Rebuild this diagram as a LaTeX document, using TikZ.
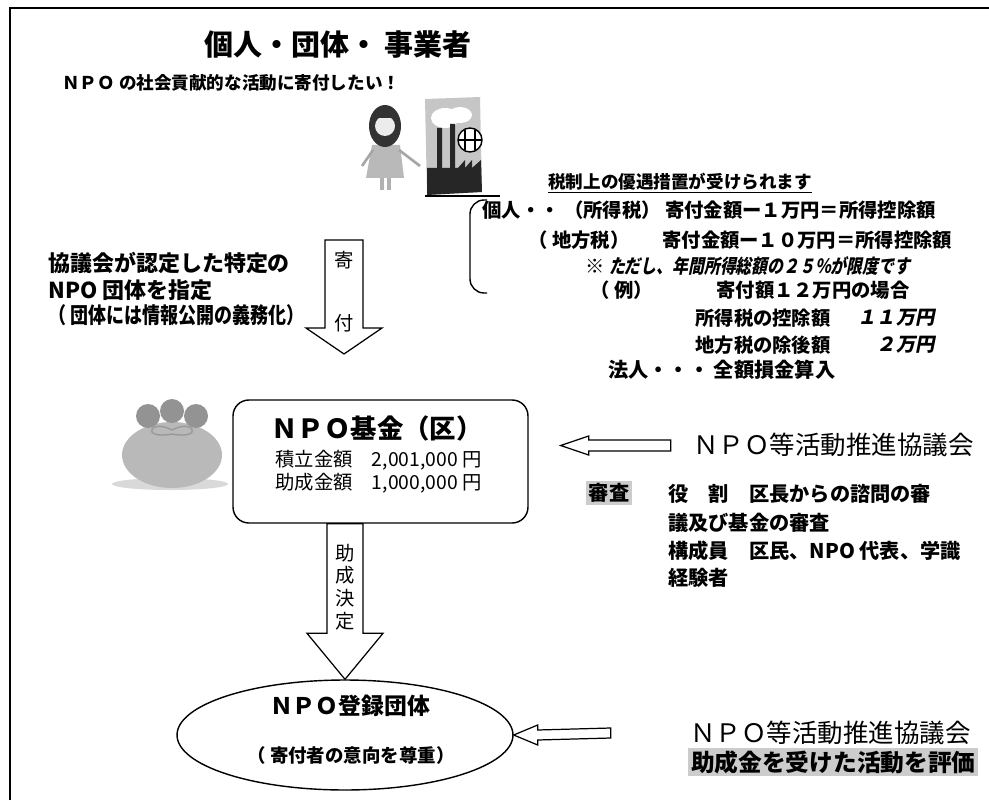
\documentclass[tikz,border=0pt]{standalone}
\usepackage{fontspec}
\setmainfont{Noto Sans CJK JP}
\usetikzlibrary{positioning, calc, shapes.geometric}

\newcommand\fsz[1]{\fontsize{#1}{#1}\selectfont}
\newcommand\slant{\addfontfeature{FakeSlant=0.2}}
\newcommand\narrow{\addfontfeature{FakeStretch=0.82}}

% hollow block arrows: (top) (tip) shaft-half head-half head-length
\newcommand\downblock[5]{%
  \draw[hollow] ($(#1)+(-#3,0)$) -- ($(#1)+(#3,0)$) -- ($(#2)+(#3,-#5)$)
    -- ($(#2)+(#4,-#5)$) -- (#2) -- ($(#2)+(-#4,-#5)$) -- ($(#2)+(-#3,-#5)$) -- cycle;}
% (tail) (tip) shaft-half head-half head-length, pointing left
\newcommand\leftblock[5]{%
  \draw[hollow] ($(#1)+(0,-#3)$) -- ($(#2)+(#5,-#3)$) -- ($(#2)+(#5,-#4)$)
    -- (#2) -- ($(#2)+(#5,#4)$) -- ($(#2)+(#5,#3)$) -- ($(#1)+(0,#3)$) -- cycle;}

\tikzset{
    ttl/.style={font=\bfseries\fsz{16.5}, inner sep=0pt},
    lead/.style={font=\bfseries\fsz{10}, anchor=west, inner sep=0pt},
    tax/.style={font=\bfseries\fsz{11}, anchor=west, inner sep=0pt},
    side/.style={font=\bfseries\fsz{12.5}, anchor=west, inner sep=0pt},
    fundbox/.style={rectangle, draw, line width=0.8pt, rounded corners=9pt, minimum width=5.9cm, minimum height=2.46cm},
    npobox/.style={ellipse, draw, line width=0.8pt, minimum width=6.72cm, minimum height=2.2cm, inner sep=0pt},
    hollow/.style={draw, line width=0.7pt, fill=white},
    boxtxt/.style={font=\fsz{11}, anchor=west, inner sep=0pt},
    council/.style={font=\fsz{14.5}, anchor=west, inner sep=0pt},
    role/.style={font=\bfseries\fsz{11.5}, anchor=west, inner sep=0pt},
    markbg/.style={fill=gray!40, inner sep=1.5pt},
}

\begin{document}
\begin{tikzpicture}[x=0.02cm, y=-0.02cm]
\useasboundingbox (0,0) rectangle (989,800);
% frame
\draw[line width=1.2pt] (10,800) -- (10,8) -- (989,8);

% donors
\node[ttl] (donor) at (338,45) {個人・団体・ 事業者};
\node[lead] (wish) at (62,83) {ＮＰＯ の社会貢献的な活動に寄付したい！};

% woman
\fill[gray!55] (372,145) -- (400,145) -- (404,178) -- (366,178) -- cycle;
\draw[gray!70, line width=1.5pt] (373,150) -- (362,166) (399,150) -- (420,166);
\draw[gray!60, line width=2pt] (382,178) -- (382,190) (389,178) -- (389,190);
\fill[black!80] (385,126) ellipse [x radius=16, y radius=21];
\fill[gray!15] (385,126) circle (10);
\fill[black!80] (377,118) -- (393,118) -- (392,112) -- (378,112) -- cycle;
% factory
\fill[gray!45] (425,99) -- (480,97) -- (482,192) -- (427,195) -- cycle;
\fill[white] (445,118) ellipse [x radius=14, y radius=10] (460,115) ellipse [x radius=12, y radius=8];
\fill[black!85] (437,128) rectangle (442,168) (450,124) rectangle (455,168);
\fill[black!85] (427,195) -- (427,168) -- (458,168) -- (465,160) -- (465,168) -- (472,160)
  -- (472,168) -- (481,160) -- (482,192) -- cycle;
\draw[line width=0.8pt, fill=white] (470,140) circle (12);
\draw[line width=1.2pt] (465,130) -- (465,150) (475,130) -- (475,150) (458,140) -- (482,140);
\draw[line width=1pt] (425,196) -- (500,196);

% tax benefits
\node[tax, font=\bfseries\fsz{10}] (taxhead) at (548,183) {\underline{税制上の優遇措置が受けられます}};
\draw[line width=0.8pt, rounded corners=8pt] (487,200) -| (470,293) -- (487,293);
\node[tax] (row1) at (482,210) {個人・・ （所得税） 寄付金額ー１万円＝所得控除額};
\node[tax] (row2) at (528,240) {（ 地方税）};
\node[tax] (row2b) at (662,240) {寄付金額ー１０万円＝所得控除額};
\node[tax] (row3) at (585,266) {※ {\slant\narrow ただし、年間所得総額の２５％が限度です}};
\node[tax] (row4) at (590,290) {（ 例）};
\node[tax] (row4b) at (716,290) {寄付額１２万円の場合};
\node[tax] (row5) at (695,318) {所得税の控除額};
\node[tax, anchor=east] (row5v) at (935,318) {\slant １１万円};
\node[tax] (row6) at (695,345) {地方税の除後額};
\node[tax, anchor=east] (row6v) at (935,345) {\slant ２万円};
\node[tax, font=\bfseries\fsz{11.5}] (row7) at (608,370) {法人・・・ 全額損金算入};

% designated groups
\node[side] (spec1) at (48,263) {協議会が認定した特定の};
\node[side] (spec2) at (48,290) {NPO 団体を指定};
\node[side] (spec3) at (48,315) {{\narrow （ 団体には情報公開の義務化）}};

% donation arrow
\coordinate (kifutop) at (344,240);
\coordinate (kifutip) at (344,354);
\downblock{kifutop}{kifutip}{19}{38}{26}
\node[font=\fsz{11}] (ki) at (344,260) {寄};
\node[font=\fsz{11}] (fu) at (344,323) {付};

% money bag
\fill[gray!30] (170,484) ellipse [x radius=58, y radius=6];
\fill[gray!55] (172,455) ellipse [x radius=50, y radius=33];
\fill[gray!85] (148,416) circle (12) (172,411) circle (12) (196,416) circle (12);
\draw[gray!80, line width=0.8pt] (172,430) .. controls (150,418) and (140,440) .. (172,434)
  .. controls (204,440) and (194,418) .. (172,430);

% fund
\node[fundbox] (fund) at (380.5,461.5) {};
\node[font=\bfseries\fsz{15}] (fundname) at (377,428) {ＮＰＯ基金（区）};
\node[boxtxt] (saving) at (275,460) {積立金額　2,001,000 円};
\node[boxtxt] (grant) at (275,483) {助成金額　1,000,000 円};

% review by the council
\coordinate (reviewtip) at ($(fund.east)+(32,-16)$);
\coordinate (reviewtail) at ($(reviewtip)+(110,0)$);
\leftblock{reviewtail}{reviewtip}{5.5}{9.5}{28}
\node[council] (council1) at (693,445) {ＮＰＯ等活動推進協議会};
\node[markbg, font=\bfseries\fsz{11.5}] (review) at (609,493) {審査};
\node[role] (role1) at (668,494) {役　割　区長からの諮問の審};
\node[role] (role2) at (668,523) {議及び基金の審査};
\node[role] (role3) at (668,551) {構成員　区民、NPO 代表、学識};
\node[role] (role4) at (668,578) {経験者};

% registered groups
\node[npobox] (npo) at (345,735) {};
\node[font=\bfseries\fsz{13}] (nponame) at (350,706) {ＮＰＯ登録団体};
\node[font=\bfseries\fsz{10.5}] (npowish) at (351,755) {（ 寄付者の意向を尊重）};

% grant decision arrow
\coordinate (granttop) at ($(fund.south)+(-35.5,0)$);
\coordinate (granttip) at (granttop |- npo.north);
\downblock{granttop}{granttip}{18}{38}{46}
\node[font=\fsz{11}, align=center, inner sep=0pt] (decide) at (345,587) {助\\[2pt]成\\[2pt]決\\[2pt]定};

% evaluation
\coordinate (evaltip) at (npo.east);
\coordinate (evaltail) at ($(evaltip)+(97,-2)$);
\leftblock{evaltail}{evaltip}{5}{10}{24}
\node[council] (council2) at (690,733) {ＮＰＯ等活動推進協議会};
\node[markbg, font=\bfseries\fsz{13.5}, anchor=west] (evaluate) at (688,762) {助成金を受けた活動を評価};
\end{tikzpicture}
\end{document}
